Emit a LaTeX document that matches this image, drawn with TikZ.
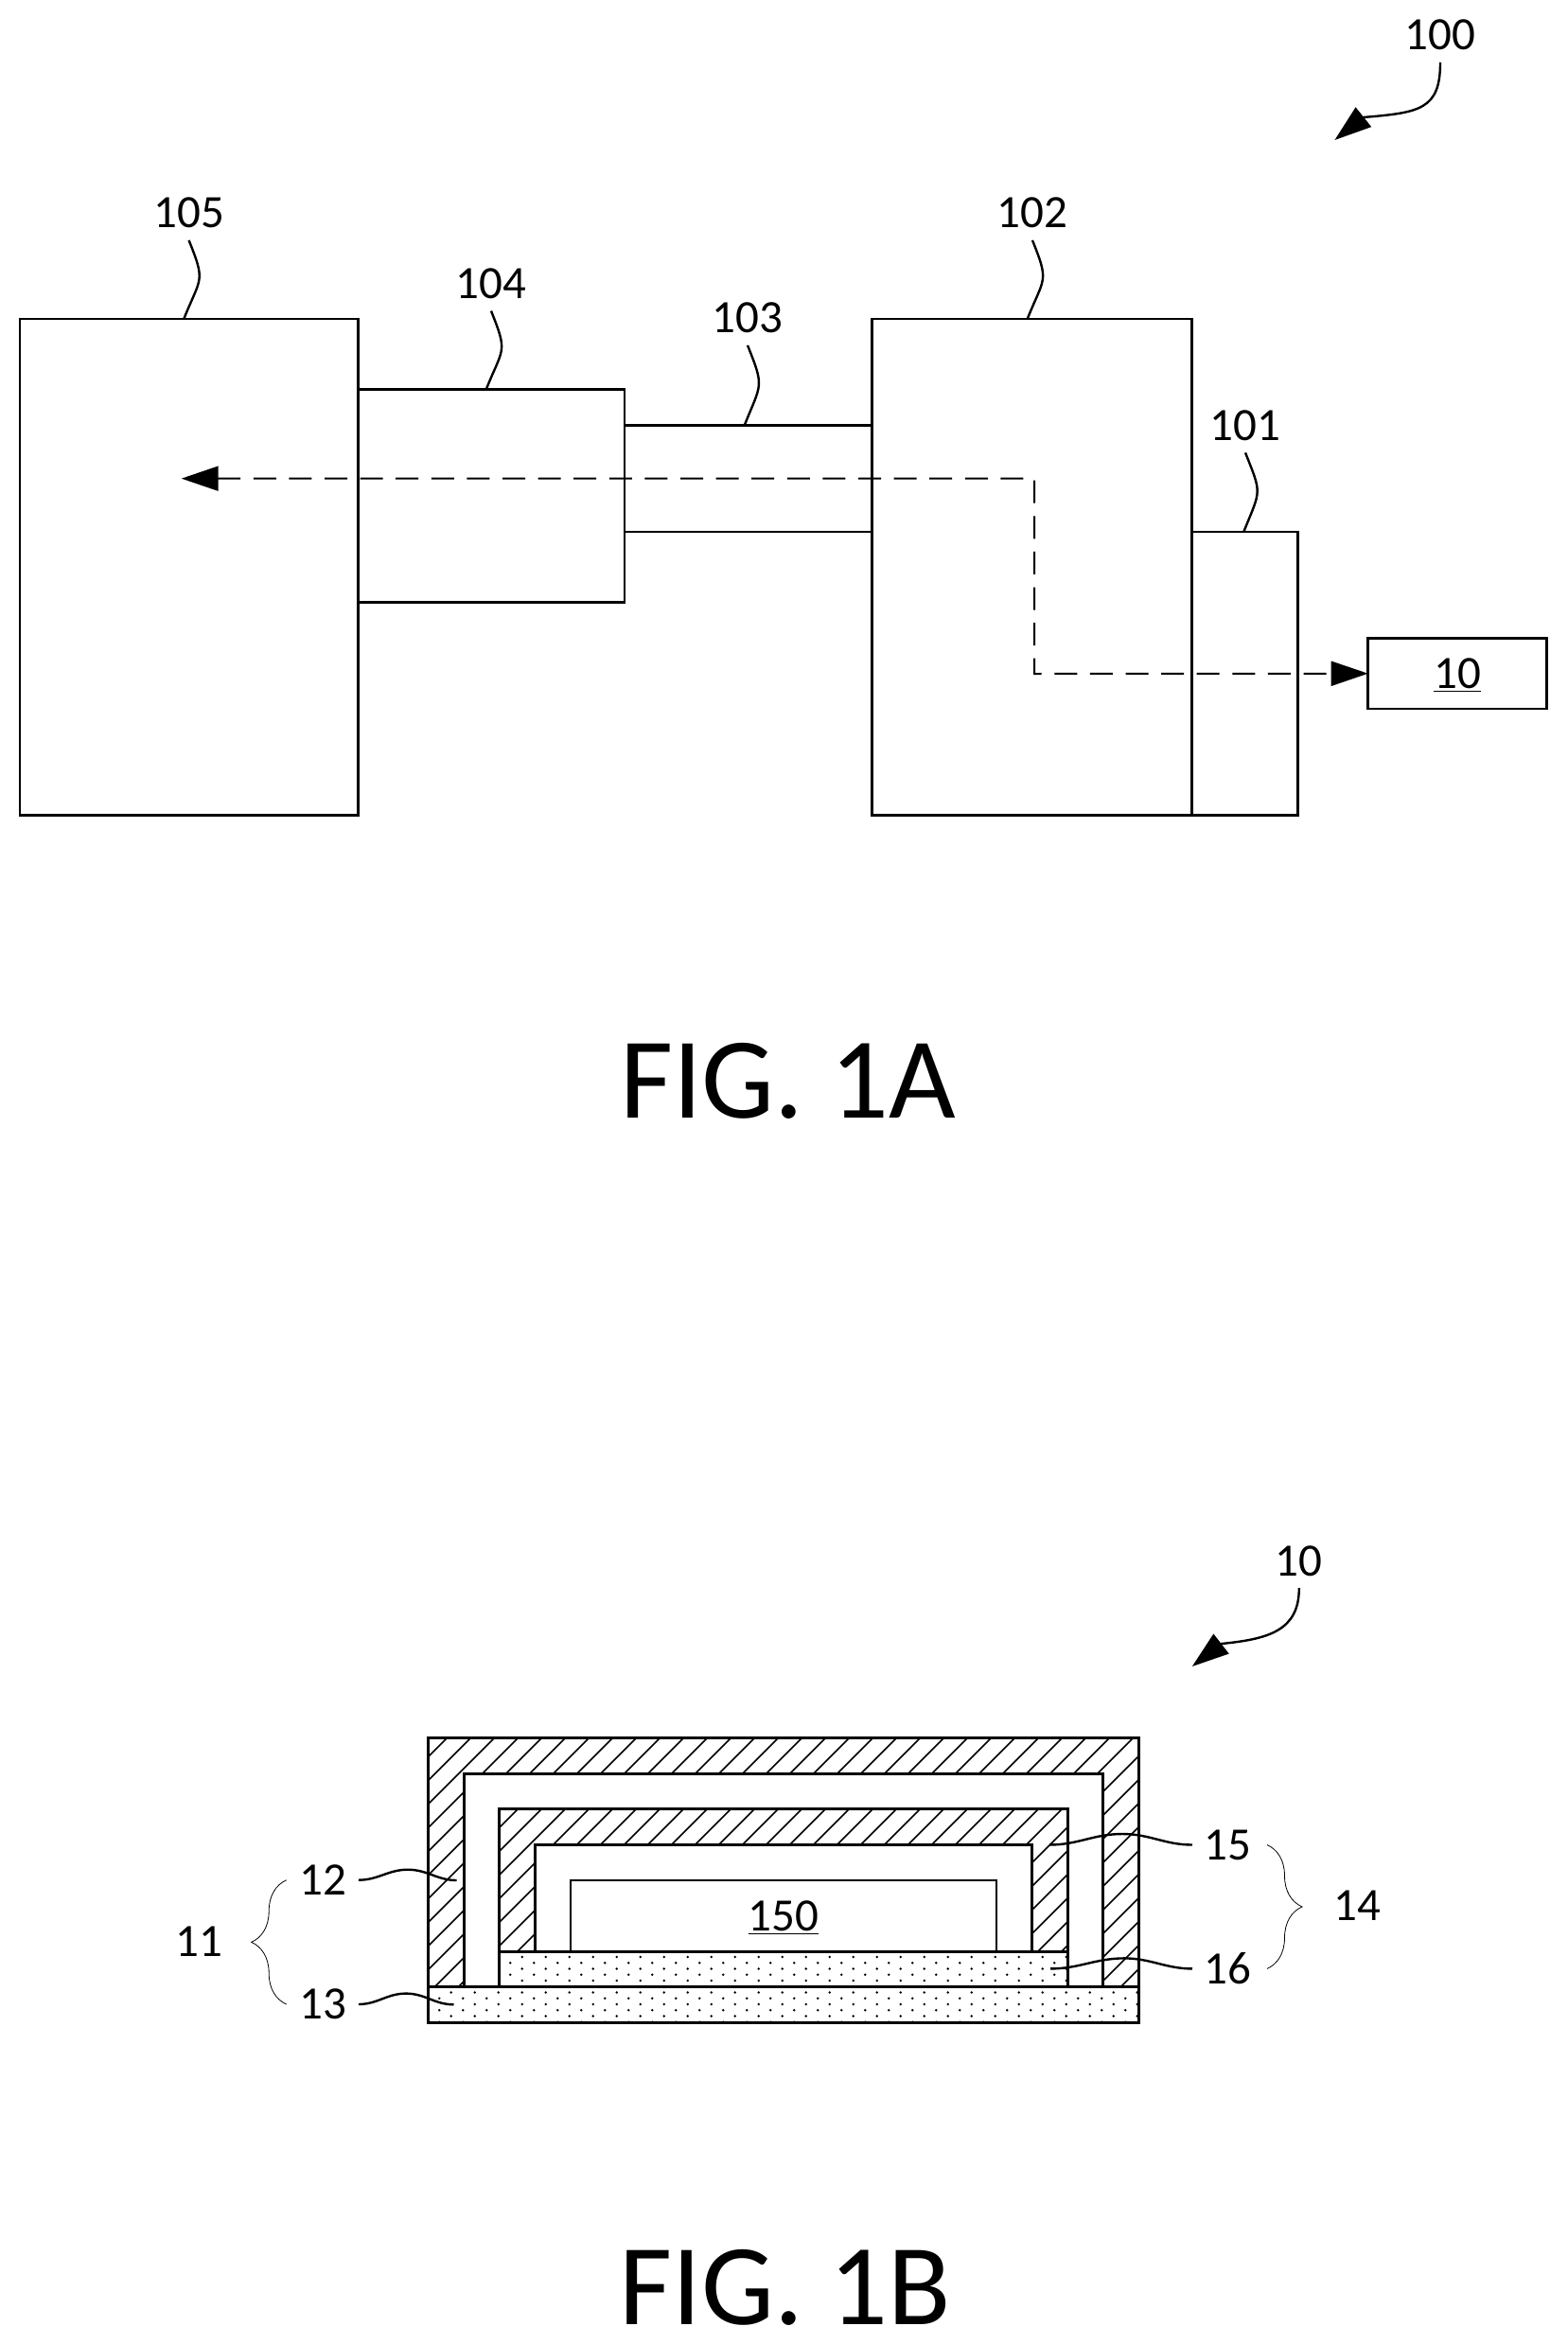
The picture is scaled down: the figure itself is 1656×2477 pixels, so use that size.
\documentclass[tikz,border=0pt]{standalone}
\usepackage{fontspec}
\setmainfont{Carlito}
\usetikzlibrary{arrows.meta, decorations.pathreplacing}

\newcommand{\hatchrect}[4]{%
    \begin{scope}
        \clip (#1,#2) rectangle (#3,#4);
        \foreach \k in {-2,...,39}{
            \pgfmathsetmacro{\c}{2334+25*\k}
            \draw[hatchline] ({\c-1800},1800) -- ({\c-2200},2200);
        }
    \end{scope}}

\tikzset{
    blk/.style 2 args={draw,line width=1.4pt,inner sep=0,outer sep=0,anchor=north west,
        minimum width=#1*0.5pt,minimum height=#2*0.5pt,font=\fontsize{24.5}{26}\selectfont,text depth=0pt},
    lab/.style={inner sep=0,outer sep=6.5pt,font=\fontsize{24.5}{26}\selectfont,text depth=0pt},
    capt/.style={inner sep=0,anchor=base,font=\fontsize{61}{64}\selectfont},
    leader/.style={line width=1.2pt},
    bigarrow/.style={line width=1.2pt,-{Triangle[length=19.5pt,width=13pt]}},
    flow/.style={line width=1pt,dash pattern=on 12pt off 6.8pt,
        {Triangle[length=19.5pt,width=13pt]}-{Triangle[length=19.5pt,width=13pt]}},
    wall/.style={line width=1.5pt},
    hatchline/.style={line width=0.8pt},
    bracket/.style={line width=0.4pt,decorate,decoration={brace,amplitude=18.5pt}}
}

\begin{document}
\begin{tikzpicture}[x=0.5pt,y=-0.5pt]
        \useasboundingbox (0,0) rectangle (1656,2477);

        % fig 1A
        \node[blk={357.6}{524.7}] (b105) at (21,337) {};
        \node[blk={281.4}{225}] (b104) at (378.6,411.6) {};
        \node[blk={261.5}{112.5}] (b103) at (660,449.5) {};
        \node[blk={337.9}{524.7}] (b102) at (921.5,337) {};
        \node[blk={112.4}{299.7}] (b101) at (1259.4,562) {};
        \node[blk={189.1}{74.5}] (b10) at (1445.7,674.5) {\underline{10}};

        \node[lab] (l105) at (199.6,225) {105};
        \node[lab] (l104) at (519,299.7) {104};
        \node[lab] (l103) at (790,336) {103};
        \node[lab] (l102) at (1091,225) {102};
        \node[lab] (l101) at (1316,449.5) {101};
        \node[lab] (l100) at (1522,37) {100};

        \coordinate (t105) at (194.3,337);
        \coordinate (t104) at (513.7,411.6);
        \coordinate (t103) at (786.7,449.5);
        \coordinate (t102) at (1085.7,337);
        \coordinate (t101) at (1314.3,562);
        \coordinate (tip100) at (1410.4,148);

        \draw[leader] (l105.south) .. controls +(18,45) and +(18,-45) .. (t105);
        \draw[leader] (l104.south) .. controls +(18,45) and +(18,-45) .. (t104);
        \draw[leader] (l103.south) .. controls +(18,45) and +(18,-45) .. (t103);
        \draw[leader] (l102.south) .. controls +(18,45) and +(18,-45) .. (t102);
        \draw[leader] (l101.south) .. controls +(18,45) and +(18,-45) .. (t101);
        \draw[bigarrow] (l100.south) .. controls +(0,50) and +(60,-5) .. (1440.5,124) -- (tip100);

        \coordinate (head) at (191.7,505.7);
        \coordinate (turn1) at (1093,505.7);
        \coordinate (turn2) at (1093,712);
        \draw[flow] (head) -- (turn1) -- (turn2) -- (b10.west);

        \node[capt] (fig1a) at (832.5,1181) {FIG. 1A};

        % fig 1B
        \hatchrect{452.7}{1836}{1203.6}{2099}
        \fill[white] (490,1874) rectangle (1165.6,2099);
        \hatchrect{527.7}{1911}{1128.6}{2062}
        \fill[white] (565,1949.5) rectangle (1090,2062);

        \begin{scope}
            \clip (452.7,2099) rectangle (1203.6,2137) (527.7,2062) rectangle (1128.6,2099);
            \foreach \k in {0,...,11}{
                \foreach \n in {0,...,30}{
                    \fill ({451.7+25*\n+12.5*mod(\k,2)},{2068+6.25*\k}) circle (0.7pt);
                }
            }
        \end{scope}

        \draw[wall] (452.7,1836) rectangle (1203.6,2137);
        \draw[wall] (452.7,2099) -- (1203.6,2099);
        \draw[wall] (490,2099) |- (1165.6,1874) -- (1165.6,2099);
        \draw[wall] (527.7,2099) |- (1128.6,1911) -- (1128.6,2099);
        \draw[wall] (527.7,2062) -- (1128.6,2062);
        \draw[wall] (565,2062) |- (1090,1949.5) -- (1090,2062);

        \node[blk={450}{75}] (b150) at (603,1987) {\underline{150}};

        \node[lab] (l10) at (1372.8,1649.3) {10};
        \node[lab] (l11) at (210,2052) {11};
        \node[lab] (l12) at (341,1986.7) {12};
        \node[lab] (l13) at (341,2118) {13};
        \node[lab] (l14) at (1434,2014) {14};
        \node[lab] (l15) at (1297.8,1949.5) {15};
        \node[lab] (l16) at (1297.8,2080.4) {16};

        \coordinate (t12) at (482.6,1987);
        \coordinate (t13) at (479.5,2118.3);
        \coordinate (t15) at (1109,1949.5);
        \coordinate (t16) at (1110,2080.4);
        \coordinate (tip10) at (1259.8,1761);

        \draw[leader] (l12.east) to[out=0,in=180] (431,1975.7) to[out=0,in=180] (t12);
        \draw[leader] (l13.east) to[out=0,in=180] (429,2106.6) to[out=0,in=180] (t13);
        \draw[leader] (l15.west) to[out=180,in=0] (1186,1938) to[out=180,in=0] (t15);
        \draw[leader] (l16.west) to[out=180,in=0] (1188,2069.4) to[out=180,in=0] (t16);
        \draw[bigarrow] (l10.south) .. controls +(0,45) and +(50,-5) .. (1290.6,1737) -- (tip10);

        \coordinate (br11a) at (302.7,2118);
        \coordinate (br11b) at (302.7,1986.7);
        \coordinate (br14a) at (1339,1949.5);
        \coordinate (br14b) at (1339,2080.4);
        \draw[bracket] (br11a) -- (br11b);
        \draw[bracket] (br14a) -- (br14b);

        \node[capt] (fig1b) at (830,2456) {FIG. 1B};
    \end{tikzpicture}
\end{document}
